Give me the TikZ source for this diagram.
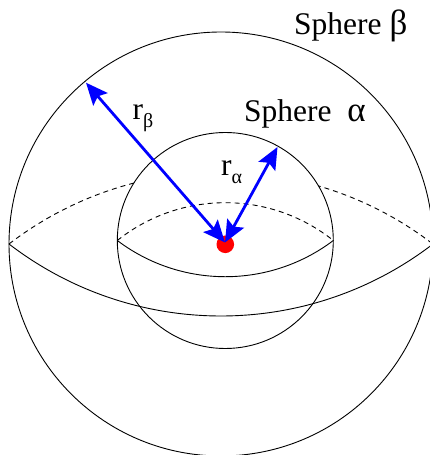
\documentclass[tikz,border=0pt]{standalone}
\usepackage{fontspec}
\setmainfont{Liberation Serif}
\usetikzlibrary{arrows.meta}
\begin{document}
\begin{tikzpicture}[x=1pt,y=1pt,
  thin line/.style={line width=0.9pt, black},
  hidden/.style={line width=0.9pt, black, dash pattern=on 5pt off 4pt},
  radius arrow/.style={line width=2.8pt, blue,
     {Stealth[length=22pt,width=19pt,inset=4pt]}-{Stealth[length=22pt,width=19pt,inset=4pt]}},
  lbl/.style={inner sep=0pt, anchor=base west, font=\fontsize{31.5}{36}\selectfont}]
\useasboundingbox (0,0) rectangle (430,455);
\clip (0,0) rectangle (430,455);
% outer sphere beta
\draw[thin line] (221,211) circle[radius=212];
\draw[hidden] (9,211) arc[start angle=127.52, end angle=52.48, radius=348];
% inner sphere alpha
\draw[thin line, fill=white] (225.3,214.5) circle[radius=108];
\draw[hidden] (117.3,214.5) arc[start angle=128.58, end angle=51.42, radius=173.2];
\draw[thin line] (117.3,214.5) arc[start angle=232.93, end angle=307.07, radius=179.2];
% outer equator front
\draw[thin line] (9,211) arc[start angle=232.48, end angle=307.52, radius=348.1];
% centre
\node[circle, fill=red, draw=none, minimum size=17.6pt, inner sep=0pt] (dot) at (225.3,210.7) {};
\coordinate (o) at (225,212.5);
\coordinate (pb) at (86,372.3);
\coordinate (pa) at (277.5,308);
\draw[radius arrow] (pb) -- (o);
\draw[radius arrow] (pa) -- (o);
% labels
\node[lbl] (lb) at (294,420) {Sphere {\fontsize{35}{36}\selectfont β}};
\node[lbl] (la) at (244,333.3) {Sphere\ \ {\fontsize{35}{36}\selectfont α}};
\node[lbl] (rb) at (132.5,335) {r\raisebox{-8pt}{\fontsize{20}{20}\selectfont β}};
\node[lbl] (ra) at (221,279) {r\raisebox{-8pt}{\fontsize{20}{20}\selectfont α}};
\end{tikzpicture}
\end{document}
